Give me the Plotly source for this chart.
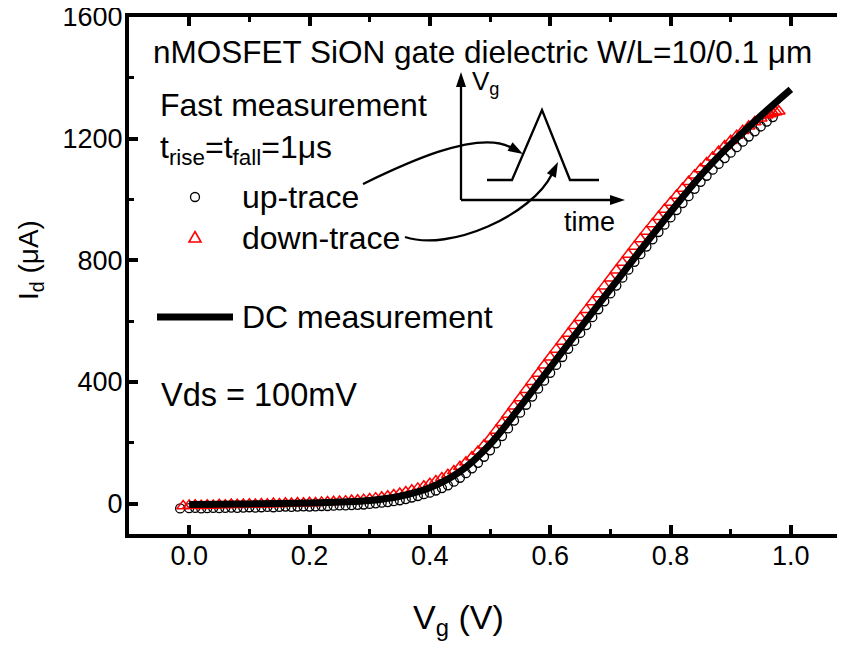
import numpy as np
import plotly.graph_objects as go

# ---------------- data ----------------
dc_vg = [0.00, 0.05, 0.10, 0.15, 0.20, 0.25, 0.30, 0.35, 0.40, 0.45, 0.50,
         0.55, 0.60, 0.65, 0.70, 0.75, 0.80, 0.85, 0.90, 0.95, 1.00]
dc_id = [-3, -2, -1, 0, 2, 5, 10, 24, 52, 105, 195,
         318, 447, 577, 705, 833, 958, 1078, 1182, 1275, 1362]

up_vg = [-0.015, 0.00, 0.01, 0.02, 0.03, 0.04, 0.05, 0.06, 0.07, 0.08, 0.09,
         0.10, 0.11, 0.12, 0.13, 0.14, 0.15, 0.16, 0.17, 0.18, 0.19,
         0.20, 0.21, 0.22, 0.23, 0.24, 0.25, 0.26, 0.27, 0.28, 0.29,
         0.30, 0.31, 0.32, 0.33, 0.34, 0.35, 0.36, 0.37, 0.38, 0.39,
         0.40, 0.41, 0.42, 0.43, 0.44, 0.45, 0.46, 0.47, 0.48, 0.49,
         0.50, 0.51, 0.52, 0.53, 0.54, 0.55, 0.56, 0.57, 0.58, 0.59,
         0.60, 0.61, 0.62, 0.63, 0.64, 0.65, 0.66, 0.67, 0.68, 0.69,
         0.70, 0.71, 0.72, 0.73, 0.74, 0.75, 0.76, 0.77, 0.78, 0.79,
         0.80, 0.81, 0.82, 0.83, 0.84, 0.85, 0.86, 0.87, 0.88, 0.89,
         0.90, 0.91, 0.92, 0.93, 0.94, 0.95, 0.96, 0.97]
up_id = [-16, -15, -14, -16, -15, -14, -15, -14, -13, -14, -13,
         -12, -13, -12, -11, -12, -11, -10, -11, -10, -9,
         -10, -9, -8, -8, -7, -6, -6, -5, -4, -3,
         -1, 1, 3, 5, 8, 11, 15, 20, 25, 31,
         36, 43, 51, 60, 72, 85, 100, 116, 134, 154,
         175, 198, 222, 247, 273, 299, 325, 352, 378, 404,
         430, 456, 482, 509, 535, 561, 587, 613, 639, 665,
         691, 717, 743, 769, 795, 820, 845, 869, 893, 917,
         941, 965, 988, 1011, 1035, 1058, 1078, 1098, 1117, 1136,
         1154, 1172, 1190, 1207, 1224, 1240, 1256, 1271]

down_vg = [-0.01, 0.00, 0.01, 0.02, 0.03, 0.04, 0.05, 0.06, 0.07, 0.08, 0.09,
           0.10, 0.11, 0.12, 0.13, 0.14, 0.15, 0.16, 0.17, 0.18, 0.19,
           0.20, 0.21, 0.22, 0.23, 0.24, 0.25, 0.26, 0.27, 0.28, 0.29,
           0.30, 0.31, 0.32, 0.33, 0.34, 0.35, 0.36, 0.37, 0.38, 0.39,
           0.40, 0.41, 0.42, 0.43, 0.44, 0.45, 0.46, 0.47, 0.48, 0.49,
           0.50, 0.51, 0.52, 0.53, 0.54, 0.55, 0.56, 0.57, 0.58, 0.59,
           0.60, 0.61, 0.62, 0.63, 0.64, 0.65, 0.66, 0.67, 0.68, 0.69,
           0.70, 0.71, 0.72, 0.73, 0.74, 0.75, 0.76, 0.77, 0.78, 0.79,
           0.80, 0.81, 0.82, 0.83, 0.84, 0.85, 0.86, 0.87, 0.88, 0.89,
           0.90, 0.91, 0.92, 0.93, 0.94, 0.95, 0.96, 0.965, 0.97, 0.975, 0.98]
down_id = [-8, -6, -5, -7, -5, -6, -4, -5, -3, -4, -3,
           -2, -3, -1, -2, 0, -1, 1, 0, 2, 1,
           3, 2, 4, 5, 6, 7, 8, 10, 11, 13,
           15, 18, 21, 24, 28, 33, 38, 44, 50, 57,
           65, 74, 84, 95, 107, 121, 136, 153, 171, 192,
           214, 240, 266, 293, 320, 347, 374, 401, 428, 455,
           481, 507, 533, 559, 585, 611, 637, 663, 689, 715,
           741, 767, 793, 819, 845, 870, 895, 919, 943, 967,
           990, 1013, 1036, 1058, 1080, 1100, 1120, 1139, 1158, 1176,
           1193, 1210, 1226, 1241, 1255, 1267, 1277, 1281, 1285, 1288, 1290]

x_ticks = [0.0, 0.2, 0.4, 0.6, 0.8, 1.0]
x_tick_labels = ["0.0", "0.2", "0.4", "0.6", "0.8", "1.0"]
y_ticks = [0, 400, 800, 1200, 1600]
y_tick_labels = ["0", "400", "800", "1200", "1600"]

# ---------------- layout geometry ----------------
# the page body has an 8px margin, so figure coords = screen coords - 8
OFF = 8
W, H = 845, 650
ML, MR, MT, MB = 121, 2, 9, 124
PW, PH = W - ML - MR, H - MT - MB
FONT = "Liberation Sans, Arial, Helvetica, sans-serif"


def px(x):
    return (x - OFF - ML) / PW


def py(y):
    return (H - MB - (y - OFF)) / PH


def pth(points, close=False):
    s = "M " + " L ".join(f"{px(x):.5f},{py(y):.5f}" for x, y in points)
    return s + (" Z" if close else "")


def head(tip, frm, length=15, width=10):
    t = np.array(tip, float)
    d = t - np.array(frm, float)
    d /= np.linalg.norm(d)
    n = np.array([-d[1], d[0]])
    b = t - d * length
    return pth([tuple(t), tuple(b + n * width / 2), tuple(b - n * width / 2)], close=True)


fig = go.Figure()
fig.add_trace(go.Scatter(x=up_vg, y=up_id, mode="markers", name="up-trace",
                         marker=dict(symbol="circle-open", size=9, color="black",
                                     line=dict(width=1.3, color="black")),
                         showlegend=False))
fig.add_trace(go.Scatter(x=down_vg, y=down_id, mode="markers", name="down-trace",
                         marker=dict(symbol="triangle-up-open", size=11, color="red",
                                     line=dict(width=1.5, color="red")),
                         showlegend=False))
fig.add_trace(go.Scatter(x=dc_vg, y=dc_id, mode="lines", name="DC measurement",
                         line=dict(color="black", width=7, shape="spline"),
                         showlegend=False))

shapes = []
ln = dict(color="black", width=2.3)
# inset pulse diagram
shapes.append(dict(type="path", xref="paper", yref="paper",
                   path=pth([(461, 200), (461, 86)]), line=ln))
shapes.append(dict(type="path", xref="paper", yref="paper",
                   path=head((461, 72), (461, 200)), fillcolor="black", line=dict(width=0)))
shapes.append(dict(type="path", xref="paper", yref="paper",
                   path=pth([(461, 200), (611, 200)]), line=ln))
shapes.append(dict(type="path", xref="paper", yref="paper",
                   path=head((625, 200), (461, 200)), fillcolor="black", line=dict(width=0)))
shapes.append(dict(type="path", xref="paper", yref="paper",
                   path=pth([(487, 180), (512, 180), (542, 110), (570, 180), (599, 180)]),
                   line=ln))
# curved arrows
c1 = [(363, 184), (400, 166), (478, 128), (512, 148)]
shapes.append(dict(type="path", xref="paper", yref="paper",
                   path="M {} C {} {} {}".format(*[f"{px(x):.5f},{py(y):.5f}" for x, y in c1]),
                   line=ln))
shapes.append(dict(type="path", xref="paper", yref="paper",
                   path=head((523, 154), (478, 128)), fillcolor="black", line=dict(width=0)))
c2 = [(405, 237), (450, 252), (532, 215), (552, 174)]
shapes.append(dict(type="path", xref="paper", yref="paper",
                   path="M {} C {} {} {}".format(*[f"{px(x):.5f},{py(y):.5f}" for x, y in c2]),
                   line=ln))
shapes.append(dict(type="path", xref="paper", yref="paper",
                   path=head((558, 162), (532, 215)), fillcolor="black", line=dict(width=0)))
# legend samples
shapes.append(dict(type="circle", xref="paper", yref="paper",
                   x0=px(190.5), x1=px(199.5), y0=py(201.5), y1=py(192.5),
                   line=dict(color="black", width=1.3)))
shapes.append(dict(type="path", xref="paper", yref="paper",
                   path=pth([(195, 231.5), (201, 242), (189, 242)], close=True),
                   line=dict(color="red", width=1.6)))
shapes.append(dict(type="line", xref="paper", yref="paper",
                   x0=px(157), x1=px(233), y0=py(317), y1=py(317),
                   line=dict(color="black", width=7)))

ann = []


def text(t, x, y, size=32, xanchor="left", **kw):
    ann.append(dict(text=t, x=px(x), y=py(y), xref="paper", yref="paper",
                    xanchor=xanchor, yanchor="middle", showarrow=False,
                    font=dict(family=FONT, size=size, color="black"), **kw))


text("nMOSFET SiON gate dielectric W/L=10/0.1 μm", 151, 52, size=31.5)
text("Fast measurement", 158, 105)
text("t<sub>rise</sub>=t<sub>fall</sub>=1μs", 158, 149)
text("up-trace", 240, 197)
text("down-trace", 240, 238)
text("DC measurement", 240, 317)
text("Vds = 100mV", 159, 395, size=32.5)
text("V<sub>g</sub>", 470, 82, size=26)
text("time", 562, 222, size=27)
text("V<sub>g</sub> (V)", 458, 619, size=34, xanchor="center")
text("I<sub>d</sub> (μA)", 30, 260, size=28, xanchor="center", textangle=-90)

axis_common = dict(showgrid=False, zeroline=False, ticks="inside", automargin=False,
                   tickcolor="black", tickwidth=3.5, ticklen=9,
                   showline=True, linecolor="black", linewidth=4, mirror="ticks",
                   ticklabeloverflow="allow",
                   tickfont=dict(family=FONT, size=27, color="black"))

fig.update_layout(
    width=W, height=H,
    margin=dict(l=ML, r=MR, t=MT, b=MB, pad=0, autoexpand=False),
    paper_bgcolor="white", plot_bgcolor="white",
    showlegend=False,
    xaxis=dict(range=[-0.1, 1.1], tickvals=x_ticks, ticktext=x_tick_labels,
               ticklabelstandoff=-5,
               minor=dict(dtick=0.1, tick0=0, ticks="inside", ticklen=5,
                          tickwidth=3, tickcolor="black"),
               **axis_common),
    yaxis=dict(range=[-100, 1600], tickvals=y_ticks, ticktext=y_tick_labels,
               ticklabelstandoff=-3,
               minor=dict(dtick=200, tick0=0, ticks="inside", ticklen=5,
                          tickwidth=3, tickcolor="black"),
               **axis_common),
    shapes=shapes,
    annotations=ann,
)

fig.write_html("out.html")
